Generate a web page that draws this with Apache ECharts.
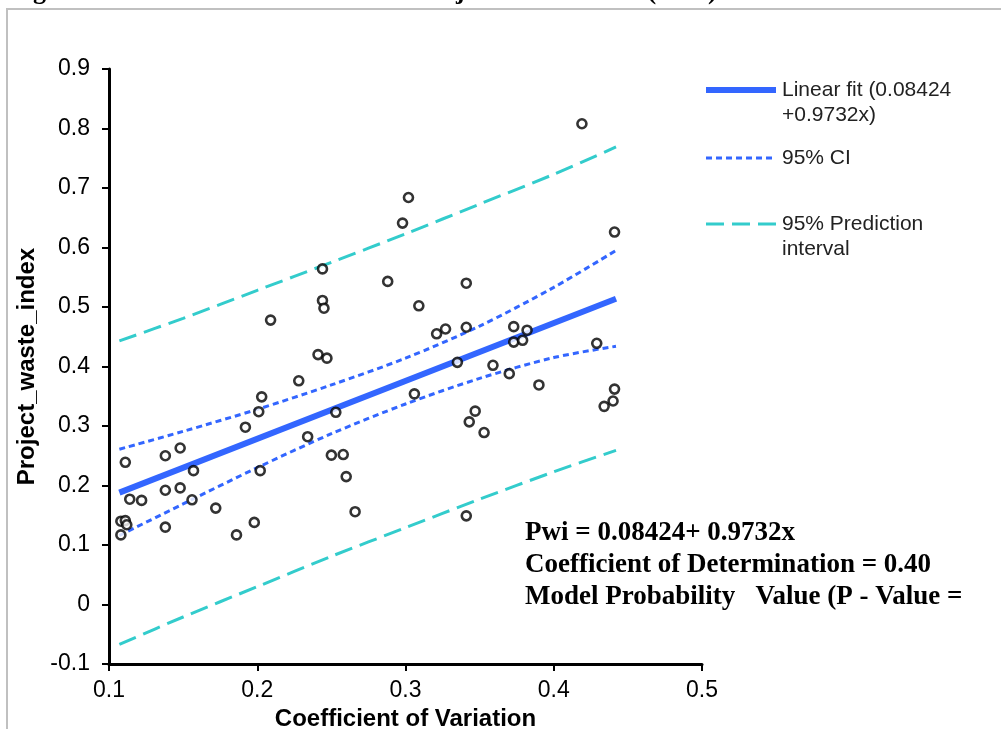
<!DOCTYPE html>
<html>
<head>
<meta charset="utf-8">
<title>Project waste index vs coefficient of variation</title>
<script src="https://cdn.jsdelivr.net/npm/echarts@6/dist/echarts.min.js"></script>
<style>
  html, body { margin: 0; padding: 0; background: #fff; }
  #chart { width: 1001px; height: 729px; }
</style>
</head>
<body>
<div id="chart"></div>
<script>
// observed projects: coefficient of variation (x) and project waste index (y)
const cvValues = [
  0.244, 0.244, 0.245, 0.209, 0.241, 0.247, 0.419, 0.302, 0.298, 0.441,
  0.288, 0.341, 0.309, 0.321, 0.327, 0.341, 0.373, 0.382, 0.373, 0.379,
  0.429, 0.335, 0.359, 0.228, 0.203, 0.201, 0.253, 0.192, 0.234, 0.111,
  0.148, 0.138, 0.157, 0.202, 0.250, 0.258, 0.260, 0.138, 0.148, 0.114,
  0.122, 0.156, 0.172, 0.266, 0.108, 0.111, 0.112, 0.138, 0.198, 0.108,
  0.186, 0.370, 0.306, 0.390, 0.441, 0.440, 0.434, 0.347, 0.343, 0.353,
  0.341
];
const pwiValues = [
  0.564, 0.511, 0.498, 0.478, 0.420, 0.414, 0.808, 0.684, 0.641, 0.626,
  0.543, 0.540, 0.502, 0.455, 0.463, 0.466, 0.467, 0.461, 0.441, 0.444,
  0.439, 0.407, 0.402, 0.376, 0.349, 0.324, 0.323, 0.298, 0.282, 0.239,
  0.263, 0.250, 0.225, 0.225, 0.251, 0.252, 0.215, 0.192, 0.196, 0.177,
  0.175, 0.176, 0.162, 0.156, 0.140, 0.141, 0.134, 0.130, 0.138, 0.117,
  0.117, 0.388, 0.354, 0.369, 0.362, 0.342, 0.333, 0.325, 0.307, 0.289,
  0.149
];

// fitted line end points
const fitX = [0.107, 0.442];
const fitY = [0.188, 0.514];

// confidence / prediction bands read at these x positions
const bandX    = [0.107, 0.15, 0.2, 0.25, 0.3, 0.35, 0.4, 0.442];
const ciUpper  = [0.261, 0.291, 0.328, 0.369, 0.414, 0.468, 0.533, 0.595];
const ciLower  = [0.116, 0.169, 0.230, 0.287, 0.337, 0.380, 0.415, 0.434];
const piUpper  = [0.443, 0.481, 0.528, 0.575, 0.623, 0.673, 0.723, 0.769];
const piLower  = [-0.067, -0.021, 0.030, 0.081, 0.129, 0.177, 0.223, 0.259];

const legendNames = ['Linear fit (0.08424\n+0.9732x)', '95% CI', '95% Prediction\ninterval'];
const noteLines = [
  'Pwi = 0.08424+ 0.9732x',
  'Coefficient of Determination = 0.40',
  'Model Probability   Value (P - Value ='
];
const titleText = 'Figure 2 Cumulative Distribution of Project Waste Index (PWI)';

const fitBlue = '#3366ff';
const piCyan = '#33cccc';
const sans = "'Liberation Sans', Arial, sans-serif";
const serif = "'Liberation Serif', 'Times New Roman', serif";

function pairs(xs, ys) {
  return xs.map(function (x, i) { return [x, ys[i]]; });
}

const myChart = echarts.init(document.getElementById('chart'), null, { renderer: 'canvas' });

myChart.setOption({
  animation: false,
  backgroundColor: '#fff',
  grid: { left: 109, right: 299, top: 69, bottom: 65, containLabel: false, outerBoundsMode: 'none' },
  xAxis: {
    type: 'value',
    min: 0.1, max: 0.5, interval: 0.1,
    name: 'Coefficient of Variation',
    nameLocation: 'middle',
    nameGap: 38,
    nameTextStyle: { fontFamily: sans, fontSize: 24, fontWeight: 'bold', color: '#000' },
    axisLine: { onZero: false, lineStyle: { color: '#000', width: 3 } },
    axisTick: { length: 7, lineStyle: { color: '#000', width: 2 } },
    axisLabel: { fontFamily: sans, fontSize: 23, color: '#000', margin: 15 },
    splitLine: { show: false }
  },
  yAxis: {
    type: 'value',
    min: -0.1, max: 0.9, interval: 0.1,
    name: 'Project_waste_index',
    nameLocation: 'middle',
    nameGap: 60,
    nameTextStyle: { fontFamily: sans, fontSize: 24, fontWeight: 'bold', color: '#000' },
    axisLine: { show: true, onZero: false, lineStyle: { color: '#000', width: 3 } },
    axisTick: { show: true, length: 7, lineStyle: { color: '#000', width: 2 } },
    axisLabel: { fontFamily: sans, fontSize: 23, color: '#000', margin: 19 },
    splitLine: { show: false }
  },
  series: [
    {
      name: 'piUpper', type: 'line', data: pairs(bandX, piUpper),
      smooth: 0.3, showSymbol: false, z: 2,
      lineStyle: { color: piCyan, width: 3, type: [18, 8] }
    },
    {
      name: 'piLower', type: 'line', data: pairs(bandX, piLower),
      smooth: 0.3, showSymbol: false, z: 2,
      lineStyle: { color: piCyan, width: 3, type: [18, 8] }
    },
    {
      name: 'ciUpper', type: 'line', data: pairs(bandX, ciUpper),
      smooth: 0.3, showSymbol: false, z: 2,
      lineStyle: { color: fitBlue, width: 3, type: [6, 4] }
    },
    {
      name: 'ciLower', type: 'line', data: pairs(bandX, ciLower),
      smooth: 0.3, showSymbol: false, z: 2,
      lineStyle: { color: fitBlue, width: 3, type: [6, 4] }
    },
    {
      name: 'fit', type: 'line', data: pairs(fitX, fitY),
      showSymbol: false, z: 3,
      lineStyle: { color: fitBlue, width: 6 }
    },
    {
      name: 'projects', type: 'scatter', data: pairs(cvValues, pwiValues),
      symbol: 'circle', symbolSize: 9, z: 5,
      itemStyle: { color: '#fff', borderColor: '#000', borderWidth: 2.6 }
    }
  ],
  graphic: [
    // grey frame of the figure
    { type: 'rect', z: 0, shape: { x: 7, y: 9, width: 1010, height: 760 },
      style: { fill: 'none', stroke: '#c0c0c0', lineWidth: 2 } },
    // title, cut by the top edge
    { type: 'text', left: 10, top: -21,
      style: { text: titleText, font: 'bold 26px ' + serif, fill: '#000' } },
    // legend samples
    { type: 'line', shape: { x1: 706, y1: 90, x2: 776, y2: 90 },
      style: { stroke: fitBlue, lineWidth: 6 } },
    { type: 'line', shape: { x1: 706, y1: 158, x2: 776, y2: 158 },
      style: { stroke: fitBlue, lineWidth: 3, lineDash: [6, 4] } },
    { type: 'line', shape: { x1: 706, y1: 224, x2: 776, y2: 224 },
      style: { stroke: piCyan, lineWidth: 3, lineDash: [18, 8] } },
    { type: 'text', x: 782, y: 78,
      style: { text: legendNames[0], font: '21px ' + sans, fill: '#222', lineHeight: 25 } },
    { type: 'text', x: 782, y: 146,
      style: { text: legendNames[1], font: '21px ' + sans, fill: '#222', lineHeight: 25 } },
    { type: 'text', x: 782, y: 212,
      style: { text: legendNames[2], font: '21px ' + sans, fill: '#222', lineHeight: 25 } },
    // model summary
    { type: 'text', x: 525, y: 517,
      style: { text: noteLines.join('\n'), font: 'bold 27px ' + serif, fill: '#000', lineHeight: 32 } }
  ]
});
</script>
</body>
</html>
